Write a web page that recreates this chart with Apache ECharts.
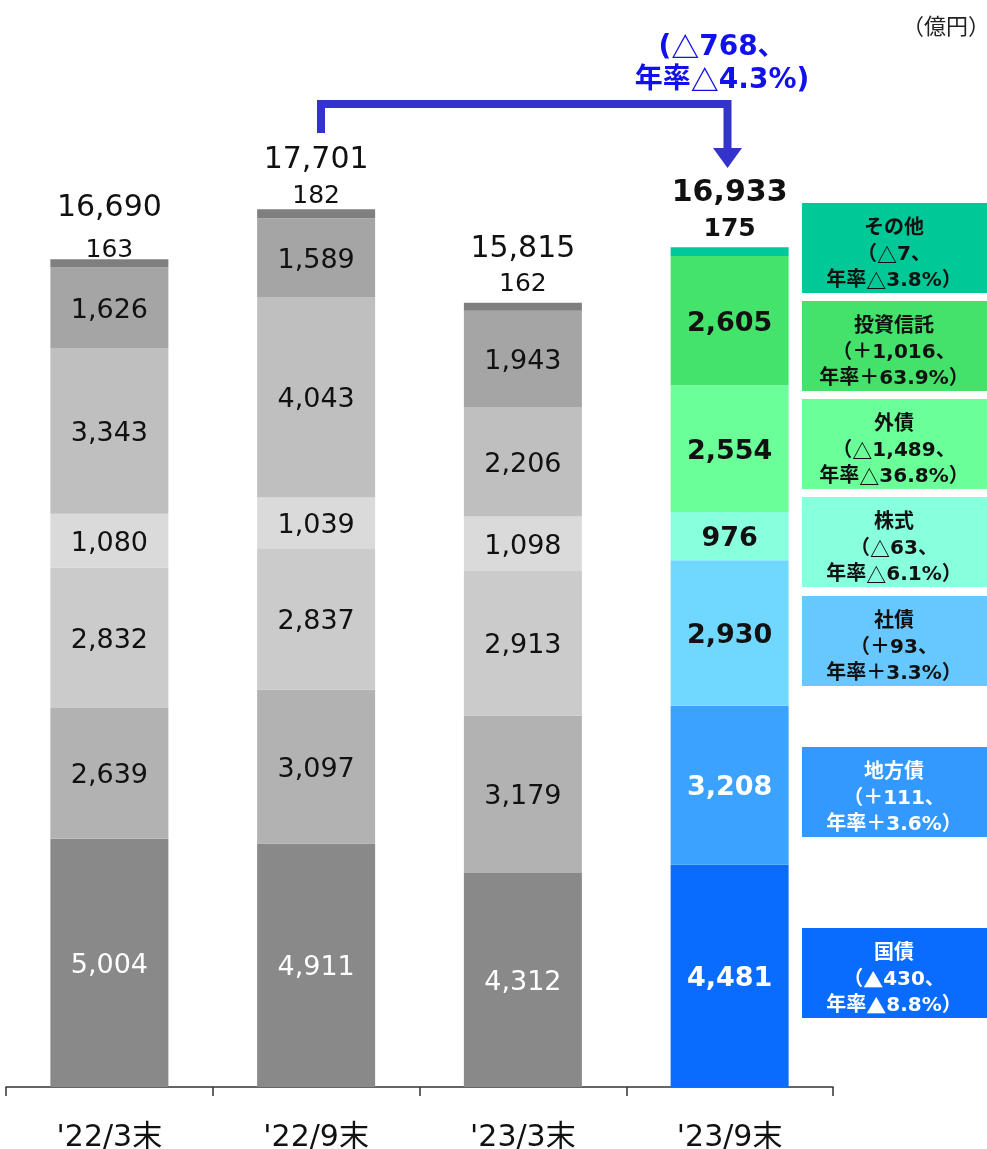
<!DOCTYPE html>
<html><head><meta charset="utf-8">
<script src="https://cdn.jsdelivr.net/npm/echarts@6/dist/echarts.min.js"></script>
<style>html,body{margin:0;padding:0;background:#fff}#c{width:987px;height:1149px}</style>
</head><body><div id="c"></div>
<script>
// ---- data ----
const categories = ["'22/3末", "'22/9末", "'23/3末", "'23/9末"];
const seriesNames = ['国債', '地方債', '社債', '株式', '外債', '投資信託', 'その他'];
const kokusai   = [5004, 4911, 4312, 4481];
const chihousai = [2639, 3097, 3179, 3208];
const shasai    = [2832, 2837, 2913, 2930];
const kabushiki = [1080, 1039, 1098, 976];
const gaisai    = [3343, 4043, 2206, 2554];
const toushin   = [1626, 1589, 1943, 2605];
const sonota    = [163, 182, 162, 175];
const totals    = [16690, 17701, 15815, 16933];
const changeLabels = [
  '国債\n（▲430、\n年率▲8.8%）',
  '地方債\n（＋111、\n年率＋3.6%）',
  '社債\n（＋93、\n年率＋3.3%）',
  '株式\n（△63、\n年率△6.1%）',
  '外債\n（△1,489、\n年率△36.8%）',
  '投資信託\n（＋1,016、\n年率＋63.9%）',
  'その他\n（△7、\n年率△3.8%）'
];
const totalChangeLabel = '(△768、\n年率△4.3%)';
const unitLabel = '（億円）';

// ---- styles ----
const FONT = '"DejaVu Sans","Noto Sans CJK JP",sans-serif';
const CJK = '"Noto Sans CJK JP",sans-serif';
const grayColors = ['#898989', '#b2b2b2', '#cbcbcb', '#dadada', '#bfbfbf', '#a5a5a5', '#7f7f7f'];
const lastColors = ['#0a6cff', '#3ba3ff', '#70d8ff', '#88ffdd', '#6aff99', '#44e36b', '#00c89a'];
const boxColors  = ['#0a6cff', '#3399ff', '#66c8ff', '#88ffdd', '#6aff99', '#44e26b', '#00c896'];
const grayLabelColors = ['#fff', '#111', '#111', '#111', '#111', '#111', '#111'];
const lastLabelColors = ['#fff', '#fff', '#111', '#111', '#111', '#111', '#111'];
const boxTextColors   = ['#fff', '#fff', '#111', '#111', '#111', '#111', '#111'];
const boxTops = [928, 747, 596, 497, 399, 301, 203];

const values = [kokusai, chihousai, shasai, kabushiki, gaisai, toushin, sonota];
const fmt = v => v.toLocaleString('en-US');
const nCat = categories.length;
const richTri = s => s.replace(/([△▲])/g, '{tri|$1}');

// label geometry for the top (その他 + total) labels
const topDist = [-1, 3, 8, 8];
const topLH = [64, 52, 50, 52];

const series = values.map((arr, si) => {
  const isTop = si === values.length - 1;
  return {
    name: seriesNames[si],
    type: 'bar',
    stack: 'total',
    barWidth: 118,
    data: arr.map((v, j) => {
      const last = j === nCat - 1;
      const item = { value: v, itemStyle: { color: last ? lastColors[si] : grayColors[si] } };
      if (isTop) {
        item.label = {
          show: true,
          position: 'top',
          distance: topDist[j],
          formatter: () => '{t|' + fmt(totals[j]) + '}\n{v|' + fmt(v) + '}',
          rich: {
            t: { fontSize: 30, fontFamily: FONT, fontWeight: last ? 'bold' : 'normal', color: '#111', lineHeight: topLH[j], align: 'center' },
            v: { fontSize: 25, fontFamily: FONT, fontWeight: last ? 'bold' : 'normal', color: '#111', lineHeight: 20, align: 'center' }
          }
        };
      } else {
        item.label = {
          show: true,
          position: 'inside',
          offset: [0, 3],
          formatter: () => fmt(v),
          fontSize: 27,
          fontFamily: FONT,
          fontWeight: last ? 'bold' : 'normal',
          color: last ? lastLabelColors[si] : grayLabelColors[si]
        };
      }
      return item;
    })
  };
});

// legend / change boxes on the right
const graphics = [];
changeLabels.forEach((txt, i) => {
  graphics.push({
    type: 'group',
    left: 802,
    top: boxTops[i],
    children: [
      { type: 'rect', shape: { x: 0, y: 0, width: 185, height: 90 }, style: { fill: boxColors[i] } },
      { type: 'text', x: 92, y: 52,
        style: { text: richTri(txt), fill: boxTextColors[i], fontSize: 20, fontWeight: 'bold', fontFamily: FONT,
                 lineHeight: 26, align: 'center', verticalAlign: 'middle', textAlign: 'center', textVerticalAlign: 'middle',
                 rich: { tri: { fontFamily: CJK, fontSize: 20, fontWeight: 'bold', lineHeight: 26, fill: boxTextColors[i] } } } }
    ]
  });
});
// bracket arrow
graphics.push({
  type: 'polyline',
  shape: { points: [[321, 133], [321, 104], [727.5, 104], [727.5, 150]] },
  style: { stroke: '#3333cc', lineWidth: 8, fill: null, lineJoin: 'miter' }
});
graphics.push({
  type: 'polygon',
  shape: { points: [[713, 148], [742, 148], [727.5, 168]] },
  style: { fill: '#3333cc' }
});
graphics.push({
  type: 'text', x: 722, y: 64,
  style: { text: richTri(totalChangeLabel), fill: '#1111ee', fontSize: 28, fontWeight: 'bold', fontFamily: FONT,
           lineHeight: 33, align: 'center', verticalAlign: 'middle', textAlign: 'center', textVerticalAlign: 'middle',
           rich: { tri: { fontFamily: CJK, fontSize: 28, fontWeight: 'bold', lineHeight: 33, fill: '#1111ee' } } }
});
graphics.push({
  type: 'text', x: 990, y: 26,
  style: { text: unitLabel, fill: '#222', fontSize: 22, fontFamily: CJK,
           align: 'right', verticalAlign: 'middle', textAlign: 'right', textVerticalAlign: 'middle' }
});

const chart = echarts.init(document.getElementById('c'), null, { renderer: 'canvas' });
chart.setOption({
  animation: false,
  backgroundColor: '#fff',
  grid: { left: 6, right: 154, top: 95, bottom: 62, containLabel: false, outerBoundsMode: 'none' },
  xAxis: {
    type: 'category',
    data: categories,
    boundaryGap: true,
    axisLine: { lineStyle: { color: '#333', width: 1.5 } },
    axisTick: { show: true, length: 9, interval: 0, lineStyle: { color: '#333', width: 1.5 } },
    axisLabel: { fontSize: 30, fontFamily: FONT, color: '#111', margin: 36, interval: 0 }
  },
  yAxis: { type: 'value', min: 0, max: 20000, show: false, splitLine: { show: false } },
  series: series,
  graphic: graphics
});
</script>
</body></html>
